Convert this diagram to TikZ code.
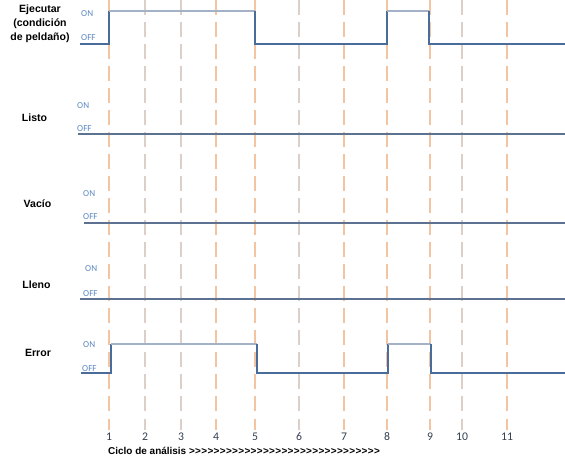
\documentclass[tikz,border=0pt]{standalone}
\usepackage{fontspec}
\setmainfont{Liberation Sans}
\newfontfamily\calfont{Carlito}
\usetikzlibrary{positioning}
\definecolor{SigBlue}{HTML}{4A6C9B}
\definecolor{SigHigh}{HTML}{A3B2C6}
\definecolor{FlatBlue}{HTML}{5D7290}
\definecolor{TickOrange}{HTML}{F3C4A2}
\definecolor{TickGray}{HTML}{DCCFC7}
\definecolor{LvlBlue}{HTML}{5B87C0}
\definecolor{NumGray}{HTML}{333F50}

\newcommand\gtrow{\foreach \i in {1,...,31}{>\kern0.3pt}}

\tikzset{
  cycleline/.style={line width=1.6pt, dash pattern=on 12.8pt off 6pt},
  sig/.style={SigBlue, line width=1pt},
  sighigh/.style={SigHigh, line width=1.3pt},
  flat/.style={FlatBlue, line width=1pt},
  lvl/.style={anchor=west, inner sep=0pt, text=LvlBlue, font=\calfont\fontsize{7.8}{9}\selectfont},
  rowlab/.style={align=center, inner sep=0pt, font=\bfseries\fontsize{9}{12}\selectfont},
  cyclenum/.style={inner sep=0pt, text=NumGray, font=\calfont\fontsize{10}{11}\selectfont}
}

\begin{document}
\begin{tikzpicture}[x=0.03cm, y=-0.03cm]
  \useasboundingbox (0,0) rectangle (565,462);
  % cycle markers
  \foreach \x/\n/\c in {109/1/TickOrange, 145/2/TickGray, 181/3/TickGray, 216/4/TickOrange,
      255/5/TickOrange, 299/6/TickGray, 344/7/TickOrange, 387/8/TickOrange,
      430/9/TickOrange, 462/10/TickGray, 507/11/TickOrange}{
     \draw[cycleline, \c] (\x,0) -- (\x,430);
     \node[cyclenum] (num\n) at (\x,437) {\n};}
  \node[anchor=west, inner sep=0pt, font=\bfseries\fontsize{8.5}{10}\selectfont] (axis) at (108,451)
     {Ciclo de análisis \gtrow};
  % row labels
  \node[rowlab] (ejecutar) at (40,24) {Ejecutar\\(condición\\de peldaño)};
  \node[rowlab] (listo) at (34.5,118) {Listo};
  \node[rowlab] (vacio) at (37.5,204) {Vacío};
  \node[rowlab] (lleno) at (36.5,285) {Lleno};
  \node[rowlab] (error) at (38,353) {Error};
  % ON / OFF levels
  \foreach \nm/\xon/\yon/\xoff/\yoff in {ejec/81/14/81/38, listo/77/106/77/129, vacio/83/194/83/217,
      lleno/85/269/83/294, error/83/345/82/369}{
     \node[lvl] (on-\nm) at (\xon,\yon) {ON};
     \node[lvl] (off-\nm) at (\xoff,\yoff) {OFF};}
  % Ejecutar
  \draw[sig] (80,44) -- (109,44) -- (109,11);
  \draw[sighigh] (109,11) -- (255,11);
  \draw[sig] (255,11) -- (255,44) -- (387,44) -- (387,11);
  \draw[sighigh] (387,11) -- (429,11);
  \draw[sig] (429,11) -- (429,44) -- (565,44);
  % Listo, Vacio, Lleno
  \draw[flat] (78,134) -- (565,134);
  \draw[flat] (84,223) -- (565,223);
  \draw[flat] (80,299) -- (565,299);
  % Error
  \draw[sig] (81,373) -- (111,373) -- (111,344);
  \draw[sighigh] (111,344) -- (257,344);
  \draw[sig] (257,344) -- (257,373) -- (388,373) -- (388,344);
  \draw[sighigh] (388,344) -- (431,344);
  \draw[sig] (431,344) -- (431,373) -- (565,373);
\end{tikzpicture}
\end{document}
